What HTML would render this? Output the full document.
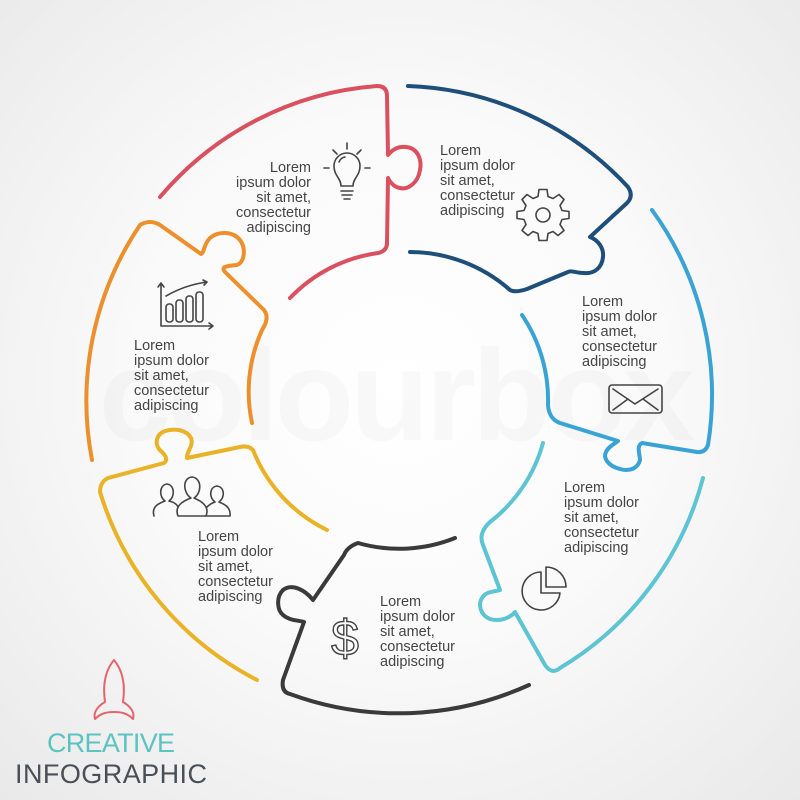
<!DOCTYPE html>
<html><head><meta charset="utf-8"><style>
html,body{margin:0;padding:0;width:800px;height:800px;overflow:hidden}
body{background:radial-gradient(circle at 400px 380px,#ffffff 0,#fafafa 45%,#e9e9e9 100%);font-family:"Liberation Sans",sans-serif}
</style></head><body>
<svg width="800" height="800" viewBox="0 0 800 800" xmlns="http://www.w3.org/2000/svg" style="position:absolute;left:0;top:0">
<text x="395" y="440" text-anchor="middle" font-family="Liberation Sans" font-weight="bold" font-size="130" fill="#000" fill-opacity="0.022" letter-spacing="-4">colourbox</text>
<g fill="none" stroke-width="4" stroke-linecap="round" stroke-linejoin="round">
<path stroke="#d9505f" d="M160,197 A315,315 0 0 1 377,86 Q387,86 387,96 L388,155 C392,150 398,146 406,147 C418,148 422,160 420,170 C418,183 408,190 400,188 C394,187 390,182 388,178 L387,243 Q387,251 378,253 A150,150 0 0 0 290,298"/>
<path stroke="#1d4f7a" d="M408,86 A315,315 0 0 1 628,187 Q634,196 627,203 L590,237 C598,240 604,248 603,257 C602,268 594,274 584,273 C576,273 571,270 568,272 L527,289 Q515,293 510,290 A152,152 0 0 0 410,252"/>
<path stroke="#3aa3d6" d="M652,210 A315,315 0 0 1 708,445 Q705,453 697,452 L642,443 C636,446 640,455 640,460 C638,468 630,472 620,469 C608,466 603,458 606,452 C608,447 614,444 618,441 L560,423 Q549,419 548,405 A152,152 0 0 0 522,315"/>
<path stroke="#5cc4d2" d="M703,478 A315,315 0 0 1 560,668 Q552,675 545,665 L515,612 C510,618 500,622 490,619 C480,615 478,604 482,598 C486,591 494,592 500,590 L483,545 Q478,533 490,522 A150,150 0 0 0 543,443"/>
<path stroke="#3a3a3a" d="M455,538 A150,150 0 0 1 358,543 Q347,547 344,555 L313,600 C305,590 292,583 283,590 C276,597 277,610 283,615 C290,621 298,620 304,622 L283,680 Q281,692 290,694 A315,315 0 0 0 529,685"/>
<path stroke="#e9b227" d="M327,530 A150,150 0 0 1 253,450 Q248,445 240,447 L187,458 C186,452 194,446 191,438 C187,430 175,428 165,431 C155,435 154,446 162,452 C166,456 168,460 164,463 L108,478 Q100,482 100,492 A315,315 0 0 0 257,680"/>
<path stroke="#ec8f2c" d="M252,423 A150,150 0 0 1 262,330 Q270,318 264,310 L225,272 C220,266 228,266 237,265 C245,262 246,248 240,240 C233,231 218,231 210,238 C203,245 205,252 201,254 L160,225 Q150,219 140,225 A315,315 0 0 0 92,460"/>
</g>
<g fill="none" stroke="#444" stroke-width="1.6" stroke-linecap="round" stroke-linejoin="round">
<path d="M341,186 C341,178 334,176 334,166 A13,13 0 0 1 360,166 C360,176 353,178 353,186 Z"/>
<path d="M341,191 H353 M342,195 H352 M344,199 H350 M347,143 V149 M333,150 L337,154 M361,150 L357,154 M324,168 H329 M365,168 H370 M339,162 A8,8 0 0 1 345,157"/>
<g transform="translate(543,215)">
<path d="M-4,-22 L4,-22 L5,-15 L10,-13 L16,-17 L21,-12 L17,-6 L19,-1 L26,0 L26,7 L19,8 L17,13 L21,19 L15,24 L10,20 L5,22 L4,29 L-4,29 L-5,22 L-10,20 L-15,24 L-21,19 L-17,13 L-19,8 L-26,7 L-26,0 L-19,-1 L-17,-6 L-21,-12 L-16,-17 L-10,-13 L-5,-15 Z" transform="translate(0,-3.5)"/>
<circle cx="0" cy="0" r="7"/>
</g>
<rect x="609" y="385" width="53" height="28" rx="3"/>
<path d="M613,389 L635,404 L658,389 M613,410 L628,399 M658,410 L643,399"/>
<path d="M541,572 A19,19 0 1 0 560,593 L541,593 Z"/>
<path d="M546,567 A20,20 0 0 1 566,587 L546,587 Z"/>
<path d="M161,283 V326 H213 M158,287 L161,283 L164,287 M209,323 L213,326 L209,329"/>
<path d="M166,296 Q185,285 207,282 M203,280 L207,282 L204,285"/>
<rect x="166" y="304" width="7" height="18" rx="3"/><rect x="176" y="300" width="7" height="22" rx="3"/><rect x="186" y="296" width="7" height="26" rx="3"/><rect x="196" y="292" width="7" height="30" rx="3"/>
<path d="M154,516 C151,506 160,503 165,501 C159,497 159,485 167,484 C175,485 175,497 169,501 C173,502 177,504 178,507"/>
<path d="M178,516 C174,506 183,501 191,498 C183,493 182,478 192,477 C202,478 202,493 194,498 C201,501 210,506 206,516 Z"/>
<path d="M207,507 C210,504 212,503 215,502 C209,498 209,487 217,486 C225,487 225,498 219,502 C224,504 231,507 230,516 H206"/>
<path stroke="#e5636d" stroke-width="2" d="M114,660 C104,672 103,688 105,702 C98,706 93,712 95,719 C101,713 107,712 114,712 C121,712 127,713 133,719 C135,712 130,706 123,702 C125,688 124,672 114,660 Z"/>
</g>
<text x="345" y="655" text-anchor="middle" font-family="Liberation Sans" font-size="50" fill="#fff" stroke="#444" stroke-width="1.4">$</text>
<g font-family="Liberation Sans" font-size="14.5" fill="#444">
<text text-anchor="end"><tspan x="311" y="172">Lorem</tspan><tspan x="311" y="187">ipsum dolor</tspan><tspan x="311" y="202">sit amet,</tspan><tspan x="311" y="217">consectetur</tspan><tspan x="311" y="232">adipiscing</tspan></text>
<text><tspan x="440" y="155">Lorem</tspan><tspan x="440" y="170">ipsum dolor</tspan><tspan x="440" y="185">sit amet,</tspan><tspan x="440" y="200">consectetur</tspan><tspan x="440" y="215">adipiscing</tspan></text>
<text><tspan x="582" y="306">Lorem</tspan><tspan x="582" y="321">ipsum dolor</tspan><tspan x="582" y="336">sit amet,</tspan><tspan x="582" y="351">consectetur</tspan><tspan x="582" y="366">adipiscing</tspan></text>
<text><tspan x="564" y="492">Lorem</tspan><tspan x="564" y="507">ipsum dolor</tspan><tspan x="564" y="522">sit amet,</tspan><tspan x="564" y="537">consectetur</tspan><tspan x="564" y="552">adipiscing</tspan></text>
<text><tspan x="380" y="606">Lorem</tspan><tspan x="380" y="621">ipsum dolor</tspan><tspan x="380" y="636">sit amet,</tspan><tspan x="380" y="651">consectetur</tspan><tspan x="380" y="666">adipiscing</tspan></text>
<text><tspan x="198" y="541">Lorem</tspan><tspan x="198" y="556">ipsum dolor</tspan><tspan x="198" y="571">sit amet,</tspan><tspan x="198" y="586">consectetur</tspan><tspan x="198" y="601">adipiscing</tspan></text>
<text><tspan x="134" y="350">Lorem</tspan><tspan x="134" y="365">ipsum dolor</tspan><tspan x="134" y="380">sit amet,</tspan><tspan x="134" y="395">consectetur</tspan><tspan x="134" y="410">adipiscing</tspan></text>
</g>
<text x="47" y="752" font-family="Liberation Sans" font-size="27" fill="#5cc4c0" textLength="128">CREATIVE</text>
<text x="15" y="783" font-family="Liberation Sans" font-size="27" fill="#4a4f57" textLength="192">INFOGRAPHIC</text>
</svg>
</body></html>
